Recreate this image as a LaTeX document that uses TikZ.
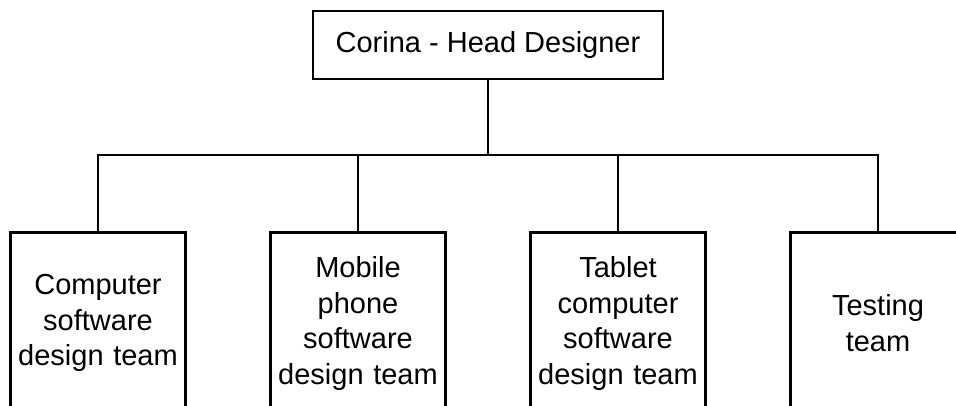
\documentclass[tikz,border=0pt]{standalone}
\usepackage{fontspec}
\setmainfont{Liberation Sans}

\begin{document}
\begin{tikzpicture}[x=1pt,y=-1pt,line width=2.6pt,
    headbox/.style={draw,minimum width=350pt,minimum height=68pt,inner sep=0pt},
    teambox/.style={draw,anchor=north,minimum width=175pt,minimum height=182pt,
      text width=170pt,align=center,inner sep=0pt},
    font=\fontsize{29}{35.5}\selectfont]
  \useasboundingbox (0,0) rectangle (956,405);
  \node[headbox] (head) at (488,45) {Corina - Head Designer}; % top
  \coordinate (bus) at (488,155);
  \node[teambox] (comp) at (98,231)  {Computer\\software\\design team};
  \node[teambox] (mob)  at (358,231) {Mobile\\phone\\software\\design team};
  \node[teambox] (tab)  at (618,231) {Tablet\\computer\\software\\design team};
  \node[teambox] (test) at (878,231) {Testing\\team};
  \draw (head) -- (bus);
  \draw (bus) -| (comp.north);
  \draw (bus) -| (mob.north);
  \draw (bus) -| (tab.north);
  \draw (bus) -| (test.north);
\end{tikzpicture}
\end{document}
